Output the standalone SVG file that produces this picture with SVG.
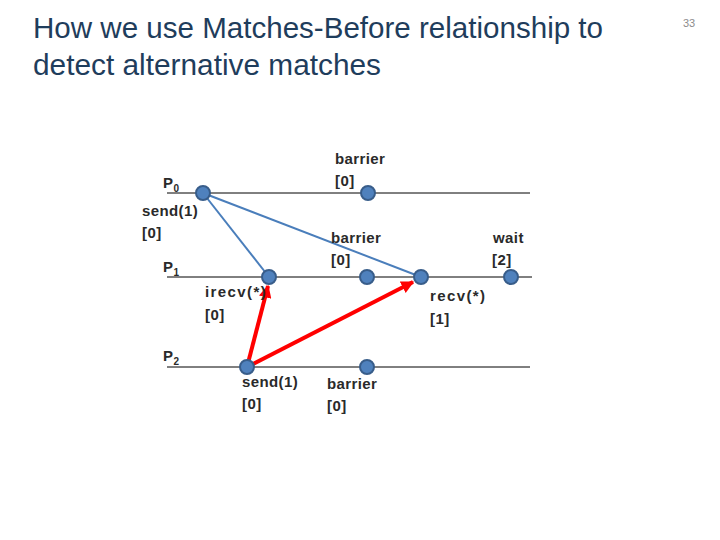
<svg xmlns="http://www.w3.org/2000/svg" width="720" height="540" viewBox="0 0 720 540">
<defs>
<linearGradient id="gTop" x1="0" y1="0" x2="1" y2="0">
<stop offset="0" stop-color="#3A4654"/>
<stop offset="0.6" stop-color="#5E5E66"/>
<stop offset="1" stop-color="#B8977A"/>
</linearGradient>
<linearGradient id="gBot" x1="0" y1="0" x2="1" y2="0">
<stop offset="0" stop-color="#D9A878"/>
<stop offset="0.5" stop-color="#8E7E80"/>
<stop offset="1" stop-color="#2E4A66"/>
</linearGradient>
<marker id="redArrow" viewBox="0 0 10 10" refX="9" refY="5" markerWidth="3.2" markerHeight="3.2" orient="auto" markerUnits="strokeWidth">
<path d="M0,0 L10,5 L0,10 z" fill="#FF0000"/>
</marker>
<style>
.title{font-family:"Liberation Sans",Arial,sans-serif;font-size:30px;fill:#1F3D5C}
.lbl{font-family:"Liberation Sans",Arial,sans-serif;font-size:15px;font-weight:bold;fill:#2A2A2A;letter-spacing:0.4px}
.wide{letter-spacing:1.4px}
.sub{font-size:10px}
.tl{stroke:#000;stroke-width:1}
.node{fill:#4F81BD;stroke:#385D8A;stroke-width:2}
.blue{stroke:#4A7EBB;stroke-width:2;fill:none}
.red{stroke:#FF0000;stroke-width:4;fill:none;marker-end:url(#redArrow)}
.pg{font-family:"Liberation Sans",Arial,sans-serif;font-size:11px;fill:#8C8C8C}
</style>
</defs>
<rect width="720" height="540" fill="#FFFFFF"/>
<g id="title">
<text class="title" x="33" y="38" textLength="570" lengthAdjust="spacingAndGlyphs">How we use Matches-Before relationship to</text>
<text class="title" x="33" y="75" textLength="348" lengthAdjust="spacingAndGlyphs">detect alternative matches</text>
<text class="pg" x="683" y="27">33</text>
<line x1="22" y1="88.5" x2="690" y2="88.5" stroke="url(#gTop)" stroke-width="1"/>
<line x1="27" y1="91.5" x2="695" y2="91.5" stroke="url(#gBot)" stroke-width="2"/>
</g>
<g id="timelines">
<line class="tl" x1="167" y1="193" x2="530" y2="193"/>
<line class="tl" x1="167" y1="277" x2="532" y2="277"/>
<line class="tl" x1="167" y1="367" x2="530" y2="367"/>
<text class="lbl" x="163" y="188">P<tspan class="sub" dy="4">0</tspan></text>
<text class="lbl" x="163" y="272">P<tspan class="sub" dy="4">1</tspan></text>
<text class="lbl" x="163" y="361">P<tspan class="sub" dy="4">2</tspan></text>
</g>
<g id="connectors">
<line class="blue" x1="203" y1="193" x2="269" y2="277"/>
<line class="blue" x1="203" y1="193" x2="421" y2="277"/>
<line class="red" x1="247" y1="367" x2="268" y2="286"/>
<line class="red" x1="247" y1="367" x2="413" y2="282"/>
</g>
<g id="p0-send">
<circle class="node" cx="203" cy="193" r="7"/>
<text class="lbl" x="142" y="216">send(1)</text>
<text class="lbl" x="142" y="238">[0]</text>
</g>
<g id="p0-barrier">
<circle class="node" cx="368" cy="193" r="7"/>
<text class="lbl" x="335" y="164">barrier</text>
<text class="lbl" x="335" y="186">[0]</text>
</g>
<g id="p1-irecv">
<circle class="node" cx="269" cy="277" r="7"/>
<text class="lbl wide" x="205" y="297">irecv(*)</text>
<text class="lbl" x="205" y="320">[0]</text>
</g>
<g id="p1-barrier">
<circle class="node" cx="367" cy="277" r="7"/>
<text class="lbl" x="331" y="243">barrier</text>
<text class="lbl" x="331" y="265">[0]</text>
</g>
<g id="p1-recv">
<circle class="node" cx="421" cy="277" r="7"/>
<text class="lbl wide" x="430" y="301">recv(*)</text>
<text class="lbl" x="430" y="324">[1]</text>
</g>
<g id="p1-wait">
<circle class="node" cx="511" cy="277" r="7"/>
<text class="lbl" x="493" y="243">wait</text>
<text class="lbl" x="492" y="265">[2]</text>
</g>
<g id="p2-send">
<circle class="node" cx="247" cy="367" r="7"/>
<text class="lbl" x="242" y="387">send(1)</text>
<text class="lbl" x="242" y="409">[0]</text>
</g>
<g id="p2-barrier">
<circle class="node" cx="367" cy="367" r="7"/>
<text class="lbl" x="327" y="389">barrier</text>
<text class="lbl" x="327" y="411">[0]</text>
</g>
</svg>
